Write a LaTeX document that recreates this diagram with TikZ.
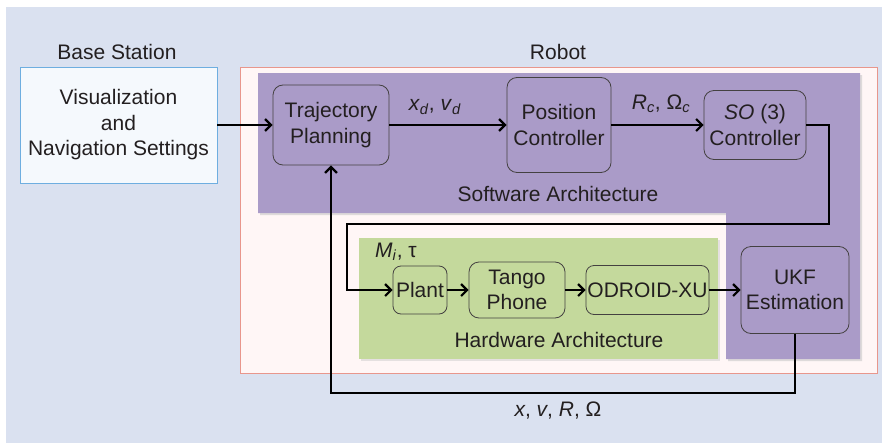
\documentclass[tikz,border=0pt]{standalone}
\usepackage{fontspec}
\setmainfont{Liberation Sans}
\usetikzlibrary{positioning,arrows.meta}
\definecolor{Backdrop}{HTML}{DAE1F0}
\definecolor{RobotFill}{HTML}{FFF6F6}
\definecolor{RobotLine}{HTML}{E8968C}
\definecolor{Soft}{HTML}{AA9BC8}
\definecolor{Hard}{HTML}{C4D99C}
\definecolor{BaseFill}{HTML}{F5F9FD}
\definecolor{BaseLine}{HTML}{6EAEE0}
\definecolor{Ink}{HTML}{231F20}

\begin{document}
\begin{tikzpicture}[
    x=1pt,y=-1pt,
    font=\fontsize{21}{25.5}\selectfont,
    text=Ink,
    block/.style={draw=Ink!85,line width=.8pt,rounded corners=10pt,align=center,inner sep=0pt},
    caption/.style={align=center,inner sep=0pt},
    flow/.style={draw=black,line width=2.2pt,-{Straight Barb[length=6pt,width=12pt,line width=2.2pt]}}
  ]
    % page and backdrop
    \useasboundingbox (0,0) rectangle (882,444);
    \fill[white] (0,0) rectangle (882,444);
    \fill[Backdrop] (6,7) rectangle (882,443);

    % robot frame with software and hardware areas
    \filldraw[fill=RobotFill,draw=RobotLine,line width=1pt] (240,67) rectangle (877,373);
    \fill[black!25,opacity=.5] (260,75) -- (862,75) -- (862,361) -- (728,361) -- (728,215) -- (260,215) -- cycle;
    \fill[Soft] (258,73) -- (860,73) -- (860,359) -- (726,359) -- (726,213) -- (258,213) -- cycle;
    \fill[black!20,opacity=.5] (361,240) rectangle (720,361);
    \fill[Hard] (359,238) rectangle (718,359);

    % base station
    \filldraw[fill=BaseFill,draw=BaseLine,line width=.8pt] (20,67) rectangle (217,183);
    \node[caption] (vis) at (118.5,125) {Visualization\\and\\Navigation Settings};
    \coordinate (visout) at (217,125);

    % software blocks
    \node[block,minimum width=116,minimum height=80] (traj) at (331,125) {Trajectory\\Planning};
    \node[block,minimum width=104,minimum height=95] (pos) at (559,125) {Position\\Controller};
    \node[block,minimum width=102,minimum height=69] (so3) at (755,125) {\textit{SO} (3)\\Controller};
    \node[block,minimum width=108,minimum height=87] (ukf) at (795,290) {UKF\\Estimation};

    % hardware blocks
    \node[block,rounded corners=8pt,minimum width=54,minimum height=48] (plant) at (420,290) {Plant};
    \node[block,minimum width=96,minimum height=56] (tango) at (517,290) {Tango\\Phone};
    \node[block,rounded corners=8pt,minimum width=123,minimum height=49] (odroid) at (647.5,290) {ODROID-XU};

    % captions
    \node[caption] (basecap) at (117,52) {Base Station};
    \node[caption] (robotcap) at (558,52) {Robot};
    \node[caption] (softcap) at (558,194) {Software Architecture};
    \node[caption] (hardcap) at (559,340) {Hardware Architecture};
    \node[caption] (xdlab) at (435,107) {\textit{x}\textsubscript{\textit{d}}, \textit{v}\textsubscript{\textit{d}}};
    \node[caption] (rclab) at (661,104) {\textit{R}\textsubscript{\textit{c}}, Ω\textsubscript{\textit{c}}};
    \node[caption] (milab) at (396,252) {\textit{M}\textsubscript{\textit{i}}, τ};
    \node[caption] (fblab) at (558,411) {\textit{x}, \textit{v}, \textit{R}, Ω};

    % bends of the long connectors
    \coordinate (turn) at (829,224);
    \coordinate (dropin) at (347,224);
    \coordinate (fb) at (331,393);

    \draw[flow] (visout) -- (traj.west);
    \draw[flow] (traj.east) -- (pos.west);
    \draw[flow] (pos.east) -- (so3.west);
    \draw[flow] (so3.east) -| (turn) -- (dropin) |- (plant.west);
    \draw[flow] (plant.east) -- (tango.west);
    \draw[flow] (tango.east) -- (odroid.west);
    \draw[flow] (odroid.east) -- (ukf.west);
    \draw[flow] (ukf.south) |- (fb) -- (traj.south);
  \end{tikzpicture}
\end{document}
